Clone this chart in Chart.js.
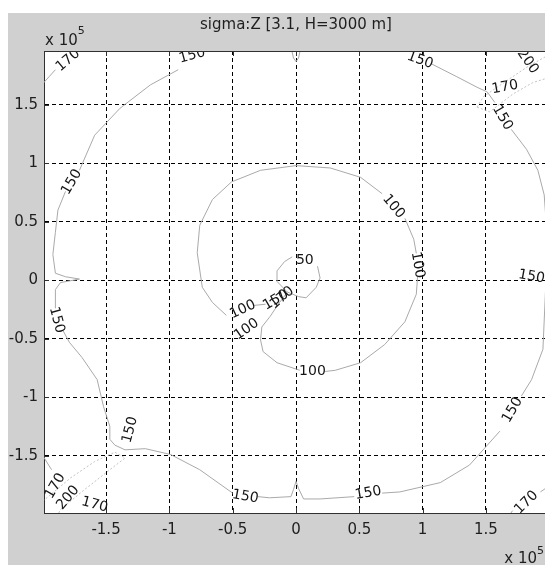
<!DOCTYPE html>
<html>
<head>
<meta charset="utf-8">
<script src="https://cdn.jsdelivr.net/npm/chart.js@4.4.1/dist/chart.umd.min.js"></script>
<style>
html, body { margin: 0; padding: 0; background: #fff; overflow: hidden; width: 545px; height: 565px; }
#wrap { position: absolute; left: 8px; top: 13px; width: 576px; height: 552px; background: #d0d0d0; }
</style>
</head>
<body>
<div id="wrap"><canvas id="mycanvas" width="576" height="552"></canvas></div>
<script>
// axis values are in units of 1e5 m
var xTicks = [-1.5, -1, -0.5, 0, 0.5, 1, 1.5];
var yTicks = [-1.5, -1, -0.5, 0, 0.5, 1, 1.5];

// contour segments, [x, y] points, broken where labels sit
var level50 = [
	[[0.17,0.12],[0.19,0.02],[0.16,-0.06],[0.08,-0.15],[0.02,-0.14],[-0.07,-0.10],[-0.15,-0.01],[-0.15,0.08],[-0.09,0.16],[-0.03,0.20]]
];
var level100 = [
	[[-0.55,-0.30],[-0.66,-0.19],[-0.74,-0.06],[-0.78,0.235],[-0.76,0.47],[-0.66,0.69],[-0.51,0.84],[-0.28,0.94],[0,0.98],[0.27,0.96],[0.51,0.88],[0.68,0.74]],
	[[0.86,0.53],[0.93,0.35],[0.95,0.23]],
	[[0.96,0.03],[0.95,-0.12],[0.86,-0.355],[0.70,-0.55],[0.51,-0.705],[0.31,-0.77],[0.23,-0.78]],
	[[0.03,-0.77],[-0.15,-0.705],[-0.26,-0.61],[-0.28,-0.51],[-0.27,-0.40],[-0.205,-0.31],[-0.13,-0.19],[-0.08,-0.12]],
	[[-0.33,-0.215],[-0.24,-0.205]]
];
var level150 = [
	[[1.07,1.85],[1.27,1.74],[1.43,1.65],[1.51,1.61],[1.57,1.52]],
	[[1.70,1.29],[1.82,1.12],[1.91,0.94],[1.96,0.73],[1.98,0.43],[1.97,0.15]],
	[[1.97,-0.10],[1.95,-0.59],[1.86,-0.85],[1.78,-0.99]],
	[[1.61,-1.29],[1.37,-1.58],[1.14,-1.73],[0.82,-1.81],[0.68,-1.82]],
	[[0.46,-1.85],[0.19,-1.87],[0.06,-1.87],[0.02,-1.78],[0,-1.72],[-0.02,-1.79],[-0.04,-1.85],[-0.21,-1.86],[-0.30,-1.85]],
	[[-0.50,-1.82],[-0.76,-1.62],[-0.99,-1.49],[-1.19,-1.44],[-1.35,-1.45],[-1.43,-1.41],[-1.47,-1.36],[-1.47,-1.25],[-1.52,-1.08],[-1.57,-0.85],[-1.69,-0.66],[-1.79,-0.53],[-1.84,-0.43]],
	[[-1.90,-0.24],[-1.90,-0.08],[-1.86,-0.02],[-1.71,0.01],[-1.82,0.03],[-1.90,0.06],[-1.92,0.22],[-1.90,0.41],[-1.88,0.60],[-1.82,0.76]],
	[[-1.71,0.94],[-1.59,1.24],[-1.39,1.47],[-1.15,1.67],[-0.93,1.80]],
	[[-0.70,2.05],[-0.05,2.05],[-0.02,1.90],[0,1.87],[0.02,1.90],[0.05,2.05],[0.86,2.05]]
];
var level170 = [
	[[-2.0,1.68],[-1.95,1.74],[-1.90,1.80]],
	[[-1.72,1.97],[-1.68,2.05]],
	[[-2.0,-1.50],[-1.93,-1.62]],
	[[1.66,-2.05],[1.71,-1.97]],
	[[1.93,-1.81],[2.05,-1.72]]
];
var bands = [
	[[1.43,1.48],[1.48,1.57],[1.67,1.71],[1.82,1.82],[2.05,1.96]],
	[[1.43,1.48],[1.53,1.44],[1.71,1.59],[1.87,1.69],[2.05,1.75]],
	[[-2.0,-1.89],[-1.78,-1.69],[-1.59,-1.55],[-1.43,-1.47],[-1.35,-1.52],[-1.47,-1.62],[-1.67,-1.79],[-1.86,-1.96],[-1.9,-2.05]]
];

// label: x, y, text, angle (deg)
var contourLabels = [
	[0.07, 0.17, '50', 0],
	[-0.42, -0.25, '100', -25],
	[0.77, 0.63, '100', 50],
	[0.96, 0.13, '100', 80],
	[0.13, -0.78, '100', 0],
	[-0.39, -0.42, '100', -35],
	[-0.16, -0.17, '150', -30],
	[-0.11, -0.15, '170', -40],
	[-0.82, 1.92, '150', -15],
	[0.98, 1.88, '150', 20],
	[1.63, 1.39, '150', 60],
	[1.86, 0.03, '150', 10],
	[1.71, -1.11, '150', -60],
	[0.57, -1.82, '150', -10],
	[-0.40, -1.85, '150', 10],
	[-1.31, -1.28, '150', -75],
	[-1.89, -0.34, '150', 75],
	[-1.77, 0.84, '150', -60],
	[-1.80, 1.88, '170', -40],
	[1.65, 1.65, '170', -10],
	[1.83, 1.87, '200', 55],
	[-1.90, -1.76, '170', -60],
	[-1.80, -1.86, '200', -50],
	[-1.59, -1.92, '170', 15],
	[1.82, -1.90, '170', -45]
];

var datasets = [];
function addLevel(segs, color, dash) {
	for (var i in segs) {
		datasets.push({
			data: segs[i].map(function(p){ return {x: p[0], y: p[1]}; }),
			showLine: true,
			pointRadius: 0,
			borderColor: color,
			borderWidth: 1,
			borderDash: dash || [],
			fill: false,
			tension: 0
		});
	}
}
addLevel(bands, '#c4c4c4', [2, 2]);
addLevel(level50, '#aaaaaa');
addLevel(level100, '#aaaaaa');
addLevel(level150, '#aaaaaa');
addLevel(level170, '#aaaaaa');

var fontFam = 'DejaVu Sans';

var frame = {
	id: 'frame',
	beforeDraw: function(chart) {
		var a = chart.chartArea, ctx = chart.ctx;
		ctx.save();
		ctx.fillStyle = '#ffffff';
		ctx.fillRect(a.left, a.top, a.right - a.left, a.bottom - a.top);
		ctx.restore();
	},
	afterDatasetsDraw: function(chart) {
		var a = chart.chartArea, ctx = chart.ctx;
		var xs = chart.scales.x, ys = chart.scales.y;
		ctx.save();
		ctx.beginPath();
		ctx.rect(a.left, a.top, a.right - a.left, a.bottom - a.top);
		ctx.clip();
		ctx.fillStyle = '#151515';
		ctx.font = '14px "' + fontFam + '"';
		ctx.textAlign = 'center';
		ctx.textBaseline = 'middle';
		contourLabels.forEach(function(l) {
			ctx.save();
			ctx.translate(xs.getPixelForValue(l[0]), ys.getPixelForValue(l[1]));
			ctx.rotate(l[3] * Math.PI / 180);
			ctx.fillText(l[2], 0, 0);
			ctx.restore();
		});
		ctx.restore();
	},
	afterDraw: function(chart) {
		var a = chart.chartArea, ctx = chart.ctx;
		var xs = chart.scales.x, ys = chart.scales.y;
		ctx.save();
		ctx.strokeStyle = '#303030';
		ctx.lineWidth = 1;
		ctx.beginPath();
		ctx.moveTo(a.left, Math.round(a.top) + 0.5);
		ctx.lineTo(a.right, Math.round(a.top) + 0.5);
		// inward ticks
		xTicks.forEach(function(v) {
			var px = Math.round(xs.getPixelForValue(v)) + 0.5;
			ctx.moveTo(px, a.bottom); ctx.lineTo(px, a.bottom - 5);
			ctx.moveTo(px, a.top); ctx.lineTo(px, a.top + 5);
		});
		yTicks.forEach(function(v) {
			var py = Math.round(ys.getPixelForValue(v)) + 0.5;
			ctx.moveTo(a.left, py); ctx.lineTo(a.left + 5, py);
		});
		ctx.stroke();

		// exponent labels
		ctx.fillStyle = '#1e1e1e';
		ctx.textAlign = 'left';
		ctx.textBaseline = 'alphabetic';
		ctx.font = '15px "' + fontFam + '"';
		var w = ctx.measureText('x 10').width;
		ctx.fillText('x 10', a.left + 1, a.top - 6);
		ctx.font = '11px "' + fontFam + '"';
		var w5 = ctx.measureText('5').width;
		ctx.fillText('5', a.left + 1 + w, a.top - 17);
		// bottom right one ends at the window edge
		var bx = a.right - 4 - w5 - w;
		ctx.fillText('5', bx + w, a.bottom + 41);
		ctx.font = '15px "' + fontFam + '"';
		ctx.fillText('x 10', bx, a.bottom + 50);
		ctx.restore();
	}
};

var tickFont = {family: fontFam, size: 15};

var ctx = document.getElementById('mycanvas');
var chart = new Chart(ctx, {
	type: 'scatter',
	data: {datasets: datasets},
	options: {
		responsive: false,
		animation: false,
		events: [],
		layout: {padding: 0},
		plugins: {
			legend: {display: false},
			tooltip: {enabled: false},
			title: {
				display: true,
				text: 'sigma:Z [3.1, H=3000 m]',
				color: '#1e1e1e',
				font: {family: fontFam, size: 15, weight: 'normal'},
				padding: {top: 3, bottom: 17}
			}
		},
		scales: {
			x: {
				type: 'linear',
				position: 'bottom',
				min: -1.99,
				max: 1.99,
				afterBuildTicks: function(s) { s.ticks = xTicks.map(function(v){ return {value: v}; }); },
				afterFit: function(s) { s.height = 52; },
				grid: {color: '#000000', lineWidth: 1, drawTicks: false},
				border: {display: true, color: '#303030', width: 1, dash: [4, 3]},
				ticks: {color: '#1e1e1e', font: tickFont, padding: 8, maxRotation: 0, autoSkip: false,
					callback: function(v){ return String(v); }}
			},
			y: {
				type: 'linear',
				position: 'left',
				min: -1.99,
				max: 1.96,
				afterBuildTicks: function(s) { s.ticks = yTicks.map(function(v){ return {value: v}; }); },
				afterFit: function(s) { s.width = 36; },
				grid: {color: '#000000', lineWidth: 1, drawTicks: false},
				border: {display: true, color: '#303030', width: 1, dash: [4, 3]},
				ticks: {color: '#1e1e1e', font: tickFont, padding: 6, autoSkip: false,
					callback: function(v){ return String(v); }}
			},
			yRight: {
				type: 'linear',
				position: 'right',
				display: true,
				grid: {display: false, drawTicks: false},
				border: {display: false},
				ticks: {display: false},
				afterFit: function(s) { s.width = 36; }
			}
		}
	},
	plugins: [frame]
});
</script>
</body>
</html>
